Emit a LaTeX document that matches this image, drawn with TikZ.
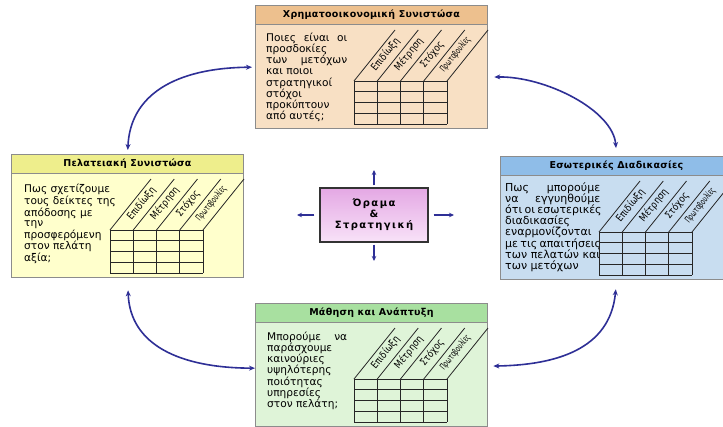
\documentclass[tikz,border=0pt]{standalone}
\usepackage{fontspec}
\setmainfont{DejaVu Sans}
\usepackage{graphicx}
\usetikzlibrary{arrows.meta,calc}
\definecolor{arrowblue}{HTML}{2E2F96}
\definecolor{finhead}{HTML}{EDC08E}
\definecolor{finbody}{HTML}{F8E0C4}
\definecolor{custhead}{HTML}{EEEE8C}
\definecolor{custbody}{HTML}{FFFFCC}
\definecolor{prochead}{HTML}{8FBDE8}
\definecolor{procbody}{HTML}{C8DDF0}
\definecolor{learnhead}{HTML}{A8E0A0}
\definecolor{learnbody}{HTML}{DFF4D8}
\definecolor{framegray}{HTML}{8C8C8C}
\definecolor{visiontop}{HTML}{E4A8E4}
\definecolor{visionbot}{HTML}{F8E2F8}
\tikzset{
  panel/.style={draw=framegray, line width=1.3pt, minimum width=232pt, minimum height=123pt, inner sep=0pt, anchor=north west},
  headbar/.style={draw=framegray, line width=0.8pt, minimum width=232pt, minimum height=19pt, inner sep=0pt, anchor=north west,
    font=\fontsize{9.5}{11}\selectfont\bfseries\addfontfeatures{LetterSpace=3}},
  bodytext/.style={anchor=north west, inner sep=0pt, align=left, font=\fontsize{10.6}{11.1}\selectfont},
  gridline/.style={draw=black!85, line width=0.8pt},
  collabel/.style={rotate=51, inner sep=0pt, font=\fontsize{10}{11}\selectfont},
  biarrow/.style={draw=arrowblue, line width=1.6pt, {Stealth[length=6pt,width=5pt]}-{Stealth[length=6pt,width=5pt]}},
  outarrow/.style={draw=arrowblue, line width=1.4pt, -{Stealth[length=5pt,width=4.5pt]}},
  vision/.style={draw=black!80, line width=1.3pt, top color=visiontop, bottom color=visionbot, minimum width=108pt, minimum height=54pt,
    inner sep=0pt, align=center, font=\fontsize{10}{11}\selectfont\bfseries\addfontfeatures{LetterSpace=14}}
}
\newcommand{\kpitable}[3]{%
  \foreach \i in {0,...,4} {\draw[gridline] (#1+\i*23.25,#2) -- (#1+\i*23.25,#2+43);}
  \foreach \j in {0,...,4} {\draw[gridline] (#1,#2+\j*10.75) -- (#1+93,#2+\j*10.75);}
  \foreach \i in {0,...,4} {\draw[gridline] (#1+\i*23.25,#2) -- (#1+\i*23.25+41,#2-51);}
  \node[collabel] (#3a) at (#1+31.5,#2-26.5) {\scalebox{0.85}[1]{Επιδίωξη}};
  \node[collabel] (#3b) at (#1+54.8,#2-26.5) {\scalebox{0.85}[1]{Μέτρηση}};
  \node[collabel] (#3c) at (#1+78,#2-26.5) {\scalebox{0.85}[1]{Στόχος}};
  \node[collabel] (#3d) at (#1+101.3,#2-26.5) {\scalebox{0.58}[0.9]{Πρωτοβουλίες}};
}
\begin{document}
\begin{tikzpicture}[x=1pt,y=-1pt]
\useasboundingbox (0,0) rectangle (723,426);
\clip (0,0) rectangle (723,426);
\fill[white] (0,0) rectangle (723,426);
% Financial
\node[panel, fill=finbody] (fin) at (255,5) {};
\node[headbar, fill=finhead] (finh) at (255,5) {Χρηματοοικονομική Συνιστώσα};
\node[bodytext] (fint) at (266,33) {\makebox[81pt][s]{Ποιες είναι οι}\\ προσδοκίες\\ \makebox[81pt][s]{των μετόχων}\\ και ποιοι\\ στρατηγικοί\\ στόχοι\\ προκύπτουν\\ από αυτές;};
\kpitable{354}{81}{fin}
% Customer
\node[panel, fill=custbody] (cust) at (11,154) {};
\node[headbar, fill=custhead] (custh) at (11,154) {Πελατειακή Συνιστώσα};
\node[bodytext, font=\fontsize{10.6}{10.5}\selectfont] (custt) at (24,184) {Πως σχετίζουμε\\ τους δείκτες της\\ απόδοσης με\\ την\\ προσφερόμενη\\ στον πελάτη\\ αξία;};
\kpitable{110}{230}{cust}
% Internal processes
\node[panel, fill=procbody] (proc) at (500,156) {};
\node[headbar, fill=prochead] (proch) at (500,156) {Εσωτερικές Διαδικασίες};
\node[bodytext, font=\fontsize{11}{11.2}\selectfont] (proct) at (505,182) {\makebox[95pt][s]{Πως μπορούμε}\\ \makebox[95pt][s]{να εγγυηθούμε}\\ \makebox[95pt][s]{ότι οι εσωτερικές}\\ διαδικασίες\\ εναρμονίζονται\\ \makebox[95pt][s]{με τις απαιτήσεις}\\ \makebox[95pt][s]{των πελατών και}\\ των μετόχων};
\kpitable{599}{232}{proc}
% Learning
\node[panel, fill=learnbody] (learn) at (255,303) {};
\node[headbar, fill=learnhead] (learnh) at (255,303) {Μάθηση και Ανάπτυξη};
\node[bodytext] (learnt) at (267,332) {\makebox[80pt][s]{Μπορούμε να}\\ παράσχουμε\\ καινούριες\\ υψηλότερης\\ ποιότητας\\ υπηρεσίες\\ στον πελάτη;};
\kpitable{354}{379}{learn}
% Vision
\node[vision] (vis) at (374,215) {Όραμα\\\&\\Στρατηγική};
\coordinate (vup) at (374,170);
\coordinate (vdown) at (374,261);
\coordinate (vleft) at (297,215);
\coordinate (vright) at (454,215);
\draw[outarrow, shorten <=2pt] (vis.north) -- (vup);
\draw[outarrow, shorten <=2pt] (vis.south) -- (vdown);
\draw[outarrow, shorten <=5pt] (vis.west) -- (vleft);
\draw[outarrow, shorten <=5pt] (vis.east) -- (vright);
% Cycle arrows
\draw[biarrow, shorten <=4pt, shorten >=3pt] (cust.north) .. controls (130,95) and (175,68) .. (fin.west);
\draw[biarrow, shorten <=6pt, shorten >=8pt] ([yshift=-10pt]fin.east) .. controls (545,76) and (613,110) .. (proc.north);
\draw[biarrow, shorten <=12pt] (cust.south) .. controls (130,345) and (180,368) .. ([yshift=-3pt]learn.west);
\draw[biarrow, shorten <=9pt, shorten >=5pt] (proc.south) .. controls (610,350) and (555,365) .. ([yshift=-1pt]learn.east);
\end{tikzpicture}
\end{document}
